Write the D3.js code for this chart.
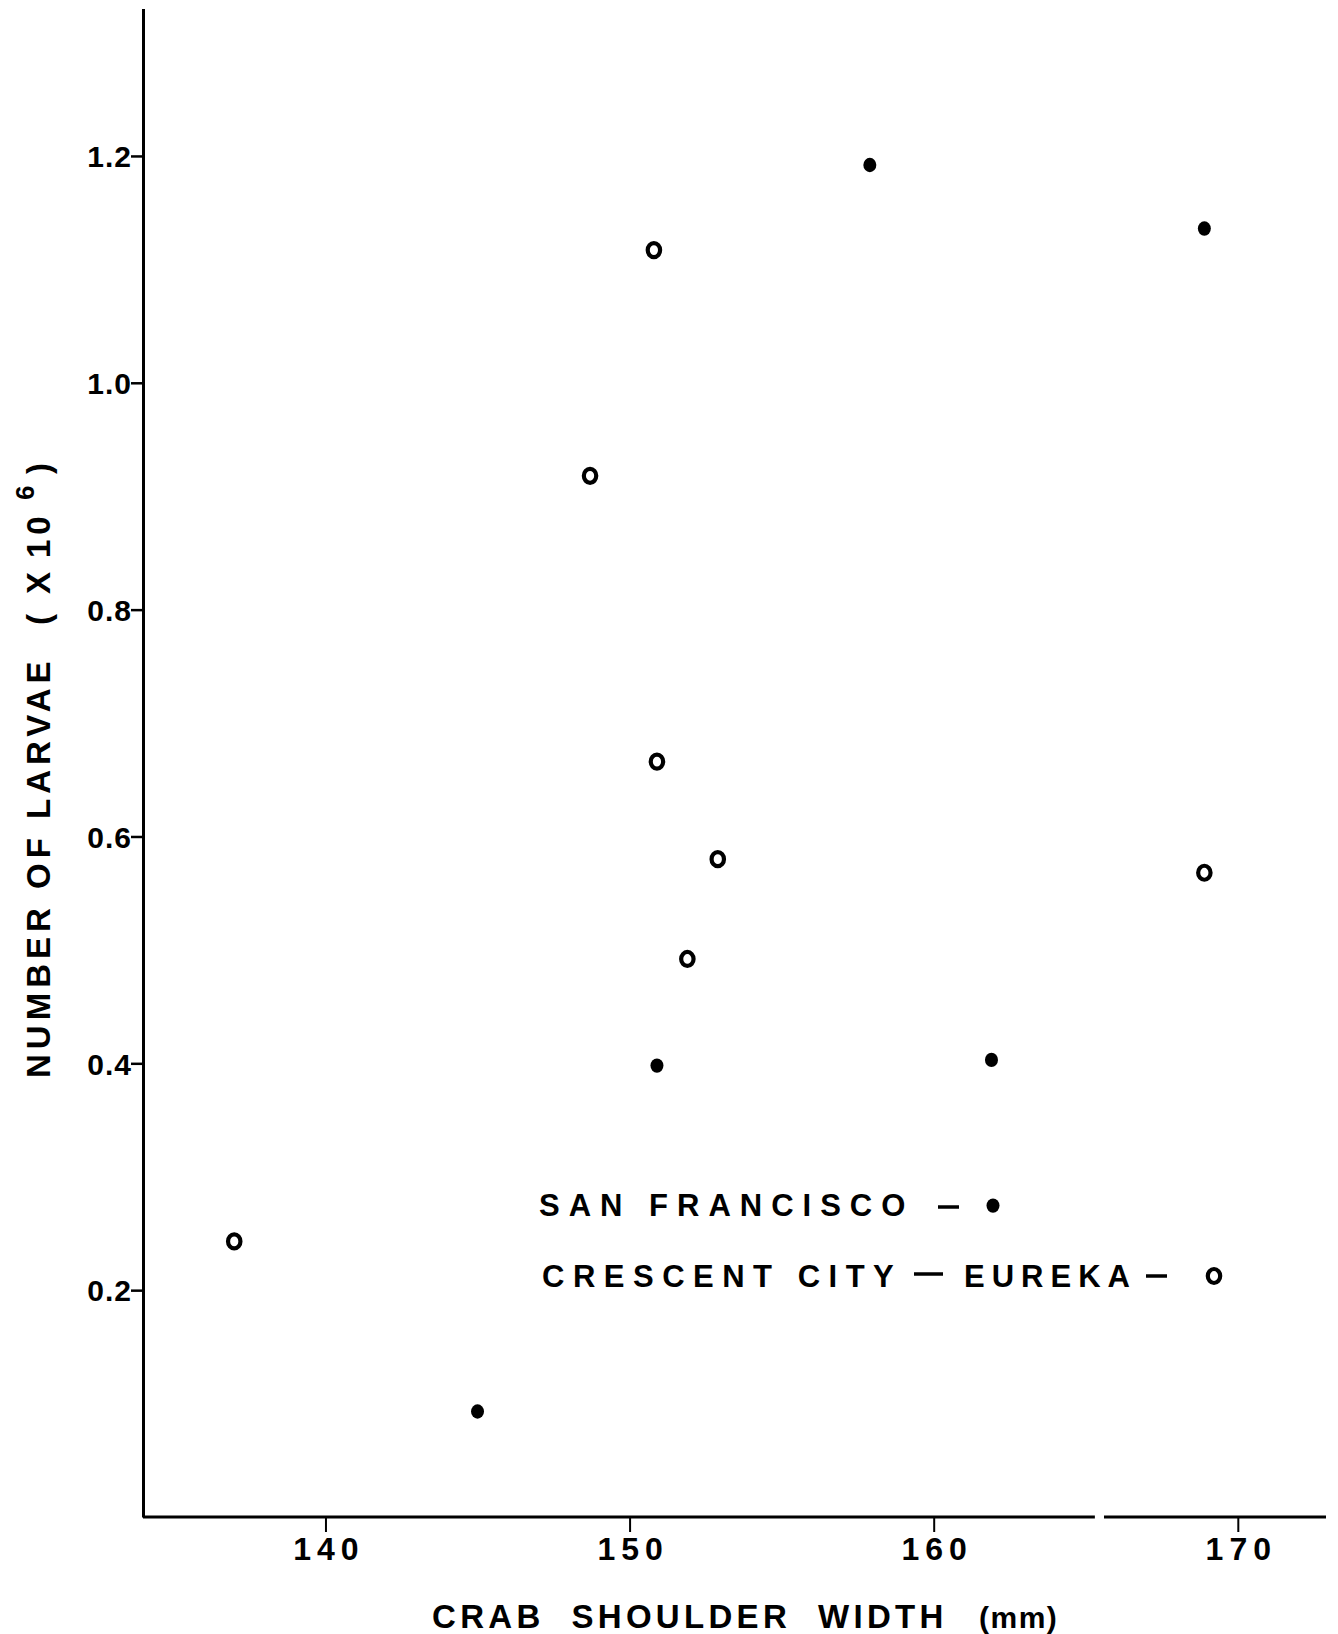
<!DOCTYPE html>
<html><head><meta charset="utf-8">
<script src="https://cdn.jsdelivr.net/npm/d3@7"></script>
<style>
html,body{margin:0;padding:0;background:#fff;}
svg{display:block;}
text{font-family:"Liberation Sans",Arial,Helvetica,sans-serif;fill:#000;}
</style></head>
<body>
<svg id="chart" width="1338" height="1634"></svg>
<script>
// ---- data ----
const xTicks = [140, 150, 160, 170];
const yTicks = [0.2, 0.4, 0.6, 0.8, 1.0, 1.2];
const sanFranciscoWidth = [157.9, 168.9, 150.9, 161.9, 145.0];
const sanFranciscoLarvae = [1.192, 1.136, 0.398, 0.403, 0.093];
const eurekaWidth = [150.8, 148.7, 150.9, 152.9, 151.9, 168.9, 137.0];
const eurekaLarvae = [1.117, 0.918, 0.666, 0.580, 0.492, 0.568, 0.243];
const legendLabels = ["SAN FRANCISCO", "CRESCENT CITY", "EUREKA"];
const xTitle = "CRAB SHOULDER WIDTH";
const xUnit = "(mm)";
const yTitleParts = ["NUMBER OF LARVAE", "(", "X", "10", "6", ")"];

const svg = d3.select("#chart");
const x = d3.scaleLinear().domain([134, 172.9]).range([143, 1326]);
const y = d3.scaleLinear().domain([0, 1.33]).range([1517, 8.5]);

// ---- y axis ----
const yAxis = svg.append("g").attr("transform", "translate(143,0)")
  .call(d3.axisLeft(y).tickValues(yTicks).tickSize(12).tickPadding(3).tickSizeOuter(0)
        .tickFormat(d3.format(".1f")));
yAxis.select(".domain").attr("stroke", "#000").attr("stroke-width", 3);
yAxis.selectAll(".tick line").attr("stroke", "#000").attr("stroke-width", 2.5);
yAxis.selectAll(".tick text").attr("font-size", 30).attr("font-weight", "bold")
  .attr("font-family", "Liberation Sans, Arial, sans-serif")
  .style("letter-spacing", "1px").attr("x", -11).attr("dy", "0.36em");

// ---- x axis ----
const xAxis = svg.append("g").attr("transform", "translate(0,1517)")
  .call(d3.axisBottom(x).tickValues(xTicks).tickSize(15).tickSizeOuter(0).tickFormat(d3.format("d")));
xAxis.select(".domain").remove();
xAxis.selectAll(".tick line").attr("stroke", "#000").attr("stroke-width", 2);
xAxis.selectAll(".tick text").attr("font-size", 32).attr("font-weight", "bold")
  .attr("font-family", "Liberation Sans, Arial, sans-serif")
  .style("letter-spacing", "6px").attr("y", 43).attr("dy", null).attr("dx", 3);
const breakA = x(165.3), breakB = x(165.6);
xAxis.append("line").attr("x1", x(134)).attr("x2", breakA).attr("y1", 0).attr("y2", 0)
  .attr("stroke", "#000").attr("stroke-width", 3);
xAxis.append("line").attr("x1", breakB).attr("x2", x(172.9)).attr("y1", 0).attr("y2", 0)
  .attr("stroke", "#000").attr("stroke-width", 3);

// ---- points ----
const sf = sanFranciscoWidth.map((w, i) => ({w, v: sanFranciscoLarvae[i]}));
const eu = eurekaWidth.map((w, i) => ({w, v: eurekaLarvae[i]}));
function dot(sel) { return sel.attr("rx", 6.5).attr("ry", 7.2).attr("fill", "#000"); }
function ring(sel) { return sel.attr("rx", 6.2).attr("ry", 7).attr("fill", "none").attr("stroke", "#000").attr("stroke-width", 4.2); }
svg.append("g").selectAll("ellipse").data(sf).join("ellipse")
  .attr("cx", d => x(d.w)).attr("cy", d => y(d.v)).call(dot);
svg.append("g").selectAll("ellipse").data(eu).join("ellipse")
  .attr("cx", d => x(d.w)).attr("cy", d => y(d.v)).call(ring);

// ---- legend ----
const lg = svg.append("g").attr("font-size", 31).attr("font-weight", "bold");
lg.append("text").attr("x", 539).attr("y", 1216).style("letter-spacing", "9px").text(legendLabels[0]);
lg.append("line").attr("x1", 938).attr("x2", 959).attr("y1", 1207).attr("y2", 1207).attr("stroke", "#000").attr("stroke-width", 3.5);
lg.append("ellipse").attr("cx", 993).attr("cy", 1205.6).call(dot);

lg.append("text").attr("x", 542).attr("y", 1287).style("letter-spacing", "8.5px").text(legendLabels[1]);
lg.append("line").attr("x1", 914).attr("x2", 943).attr("y1", 1274).attr("y2", 1274).attr("stroke", "#000").attr("stroke-width", 3.5);
lg.append("text").attr("x", 964).attr("y", 1287).style("letter-spacing", "7px").text(legendLabels[2]);
lg.append("line").attr("x1", 1146).attr("x2", 1167).attr("y1", 1276).attr("y2", 1276).attr("stroke", "#000").attr("stroke-width", 3.5);
lg.append("ellipse").attr("cx", 1214).attr("cy", 1276).call(ring);

// ---- axis titles ----
const xt = svg.append("text").attr("x", 432).attr("y", 1628).attr("font-size", 33)
  .attr("font-weight", "bold").style("letter-spacing", "4.3px");
xt.append("tspan").text(xTitle.replace(/ /g, "\u00a0\u00a0"));
xt.append("tspan").attr("x", 979).attr("font-size", 30).style("letter-spacing", "1.5px").text(xUnit);

const yt = svg.append("text").attr("transform", "translate(50,1078) rotate(-90)")
  .attr("font-size", 33).attr("font-weight", "bold").style("letter-spacing", "5px");
const yPos = [0, 453, 484, 520, 578, 604];
const yDy = [0, 0, 0, 0, -16, 16];
const ySize = [33, 33, 33, 33, 26, 33];
yTitleParts.forEach((t, i) => {
  yt.append("tspan").attr("x", yPos[i]).attr("dy", yDy[i]).attr("font-size", ySize[i])
    .text(t.replace(/ /g, "\u00a0"));
});
</script>
</body></html>
